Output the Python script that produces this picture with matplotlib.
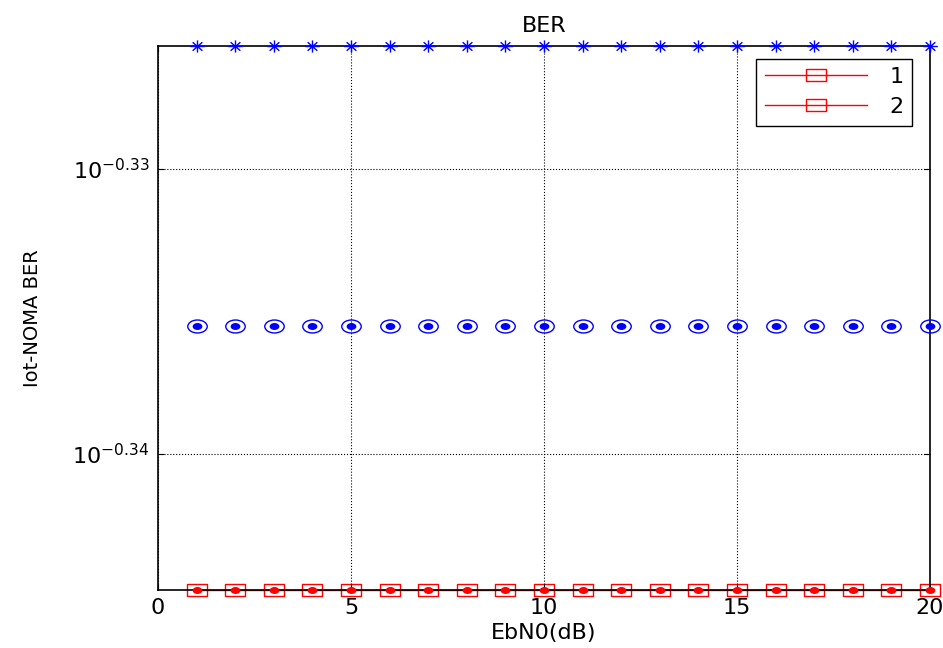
import numpy as np
import matplotlib
matplotlib.use("Agg")
import matplotlib.pyplot as plt
from matplotlib.path import Path
from matplotlib.lines import Line2D

plt.rcParams['font.family'] = ['DejaVu Sans']
plt.rcParams['mathtext.fontset'] = 'dejavusans'

# ---- data ----
ebn0 = [1, 2, 3, 4, 5, 6, 7, 8, 9, 10, 11, 12, 13, 14, 15, 16, 17, 18, 19, 20]
ber_star = [0.47240] * 20
ber_circle = [0.46184] * 20
ber_square = [0.45209] * 20
legend_labels = ['1', '2']
xticks = [0, 5, 10, 15, 20]
ytick_exps = [-0.34, -0.33]

# ---- custom (horizontally stretched) markers ----
circ = Path.unit_circle()
ellipse = Path(circ.vertices * np.array([1.5, 1.0]), circ.codes)
rect = Path([(-1.5, -1), (1.5, -1), (1.5, 1), (-1.5, 1), (-1.5, -1)],
            [Path.MOVETO, Path.LINETO, Path.LINETO, Path.LINETO, Path.CLOSEPOLY])
ast_v = [(-1.2, 0), (1.2, 0), (0, -1), (0, 1), (-0.8, -0.7), (0.8, 0.7), (-0.8, 0.7), (0.8, -0.7)]
ast_c = [Path.MOVETO, Path.LINETO] * 4
asterisk = Path(ast_v, ast_c)

fig = plt.figure(figsize=(9.43, 6.48), dpi=100)
ax = fig.add_axes([158/943, 1-590/648, (930-158)/943, (590-46)/648])
ax.set_yscale('log')

ax.plot(ebn0, ber_star, linestyle='none', marker=asterisk, markersize=10.5,
        color='blue', markeredgewidth=1.0, fillstyle='none', clip_on=False, zorder=5)
ax.plot(ebn0, ber_circle, linestyle='none', marker=ellipse, markersize=14,
        markeredgecolor='blue', markerfacecolor='none', markeredgewidth=1.0, clip_on=False, zorder=5)
ax.plot(ebn0, ber_circle, linestyle='none', marker=ellipse, markersize=6,
        color='blue', clip_on=False, zorder=5)
ax.plot(ebn0, ber_square, linestyle='-', color='red', lw=1.0, marker=rect, markersize=14,
        markeredgecolor='red', markerfacecolor='none', markeredgewidth=1.0, clip_on=False, zorder=1)
ax.plot(ebn0, ber_square, linestyle='none', marker=ellipse, markersize=6,
        color='red', clip_on=False, zorder=5)

ax.set_xlim(0, 20)
ax.set_ylim(min(ber_square), max(ber_star))
ax.set_xticks(xticks)
ax.set_xticklabels([str(t) for t in xticks], fontsize=16)
ax.set_yticks([10**e for e in ytick_exps])
ax.set_yticklabels([r'$10^{%g}$' % e for e in ytick_exps], fontsize=16)
ax.yaxis.set_minor_locator(matplotlib.ticker.NullLocator())
ax.tick_params(direction='in', top=True, right=True, length=4, width=0.8, pad=6)
ax.grid(True, color='black', linestyle=':', linewidth=0.8)
for s in ax.spines.values():
    s.set_linewidth(1.2)
    s.set_zorder(3)

ax.set_title('BER', fontsize=16, pad=10)
ax.set_xlabel('EbN0(dB)', fontsize=16, labelpad=3)
ax.set_ylabel('Iot-NOMA BER', fontsize=14, labelpad=22)

handles = [Line2D([0], [0], color='red', lw=1.0, marker=rect, markersize=14,
                  markeredgecolor='red', markerfacecolor='none') for _ in legend_labels]
leg = ax.legend(handles, legend_labels, loc='upper right', bbox_to_anchor=(0.9765, 0.9765),
                fontsize=16, handlelength=4.6, fancybox=False, edgecolor='black',
                framealpha=1, borderpad=0.38, labelspacing=0.45, handletextpad=1.0,
                borderaxespad=0)
leg.get_frame().set_linewidth(1.0)

fig.savefig('out.png', dpi=100)
